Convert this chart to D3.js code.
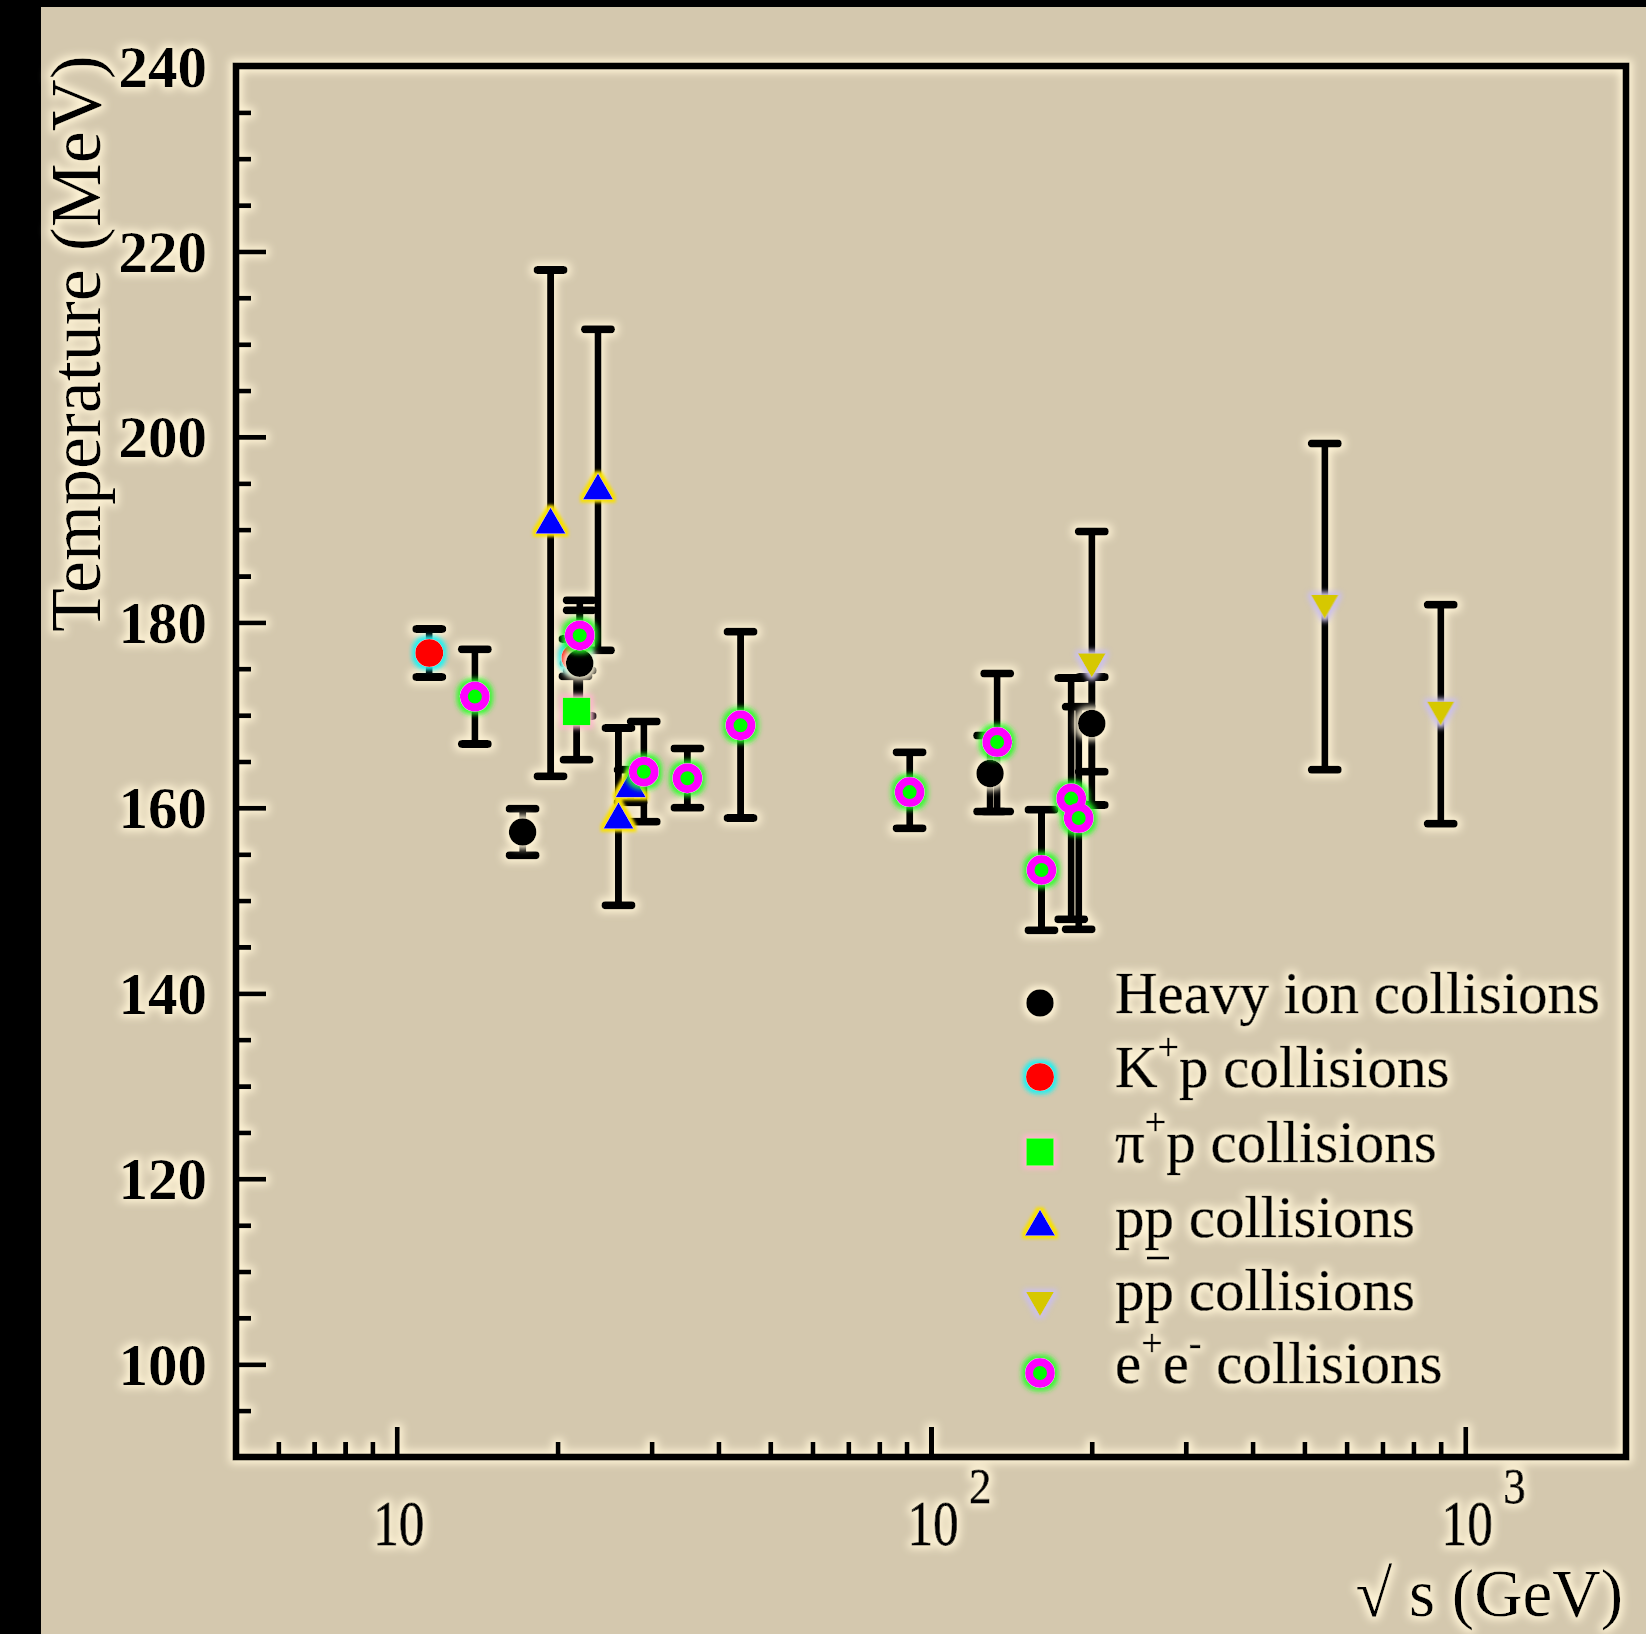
<!DOCTYPE html>
<html>
<head>
<meta charset="utf-8">
<script src="https://cdn.jsdelivr.net/npm/d3@7"></script>
<style>
body { margin: 0; background: #d4c8ae; }
svg { display: block; }
text { font-family: "Liberation Serif", "Times New Roman", serif; fill: #000; }
</style>
</head>
<body>
<div id="chart"></div>
<script>

// values
var heavyS = [17.2, 22.0, 129, 200];
var heavyT = [157.4, 175.6, 163.7, 169.1];
var heavyLo = [2.5, 5.7, 4.1, 5.2];
var heavyHi = [2.5, 5.7, 4.1, 5.0];

var kpS = [11.5, 21.6];
var kpT = [176.7, 176.2];
var kpLo = [2.6, 2.0];
var kpHi = [2.6, 2.0];

var pipS = [21.7];
var pipT = [170.4];
var pipLo = [5.2];
var pipHi = [5.2];

var ppS = [19.4, 23.8, 26.0, 27.4];
var ppT = [190.5, 194.2, 158.7, 162.1];
var ppLo = [27.1, 17.2, 9.2, 1.5];
var ppHi = [27.5, 17.4, 9.9, 2.0];

var pbarpS = [200, 546, 900];
var pbarpT = [175.8, 182.1, 170.6];
var pbarpLo = [15.5, 18.0, 12.3];
var pbarpHi = [14.0, 17.2, 11.3];

var eeS = [14, 22, 29, 35, 44, 91.2, 133, 161, 183, 189];
var eeT = [172.0, 178.6, 163.9, 163.2, 168.9, 161.7, 167.1, 153.3, 161.0, 158.9];
var eeLo = [5.1, 3.8, 5.4, 3.2, 10.0, 3.9, 7.5, 6.5, 13.0, 12.0];
var eeHi = [5.1, 3.8, 5.4, 3.2, 10.1, 4.3, 7.4, 6.5, 13.0, 12.0];

var yMajor = [100, 120, 140, 160, 180, 200, 220, 240];
var xMajor = [10, 100, 1000];
var xLabels = ["10", "10", "10"];
var xExponents = ["", "2", "3"];

var svgWidth = 1646;
var svgHeight = 1634;
var plot = { left: 236, right: 1626, top: 66, bottom: 1457 };

var svg = d3.select("#chart")
  .append("svg")
  .attr("width", svgWidth)
  .attr("height", svgHeight);

svg.append("rect")
  .attr("width", svgWidth)
  .attr("height", svgHeight)
  .attr("fill", "#d4c8ae");

// black strips on the left and top edge
svg.append("rect").attr("x", 0).attr("y", 0).attr("width", 41).attr("height", svgHeight).attr("fill", "#000");
svg.append("rect").attr("x", 0).attr("y", 0).attr("width", svgWidth).attr("height", 7).attr("fill", "#000");

var defs = svg.append("defs");

function addGlow(id, color, dilate, blur, opacity) {
  var f = defs.append("filter")
    .attr("id", id)
    .attr("filterUnits", "userSpaceOnUse")
    .attr("x", 0).attr("y", 0)
    .attr("width", svgWidth).attr("height", svgHeight);
  f.append("feMorphology").attr("in", "SourceAlpha").attr("operator", "dilate").attr("radius", dilate).attr("result", "fat");
  f.append("feGaussianBlur").attr("in", "fat").attr("stdDeviation", blur).attr("result", "soft");
  f.append("feFlood").attr("flood-color", color).attr("flood-opacity", opacity).attr("result", "col");
  f.append("feComposite").attr("in", "col").attr("in2", "soft").attr("operator", "in").attr("result", "halo");
  var m = f.append("feMerge");
  m.append("feMergeNode").attr("in", "halo");
  m.append("feMergeNode").attr("in", "SourceGraphic");
}

addGlow("glowInk", "#fff4d6", 3, 4, 1);
addGlow("glowHeavy", "#fff4d6", 3, 3, 1);
addGlow("glowKp", "#20f0f0", 3, 2, 1);
addGlow("glowPip", "#ffb4cc", 3, 2.5, 1);
addGlow("glowPp", "#f8e000", 3, 1.5, 1);
addGlow("glowPbarp", "#cabfe8", 3, 2.5, 1);
addGlow("glowEe", "#20ff20", 3, 2.5, 0.9);

var x = d3.scaleLog()
  .domain([5, 2000])
  .range([plot.left, plot.right]);

var y = d3.scaleLinear()
  .domain([90, 240])
  .range([plot.bottom, plot.top]);

var series = [
  { name: "Heavy ion collisions", s: heavyS, t: heavyT, lo: heavyLo, hi: heavyHi, symbol: d3.symbolCircle, size: 600, fill: "#000", glow: "glowHeavy", rot: 0 },
  { name: "K+p", s: kpS, t: kpT, lo: kpLo, hi: kpHi, symbol: d3.symbolCircle, size: 620, fill: "#ff0000", glow: "glowKp", rot: 0 },
  { name: "pi+p", s: pipS, t: pipT, lo: pipLo, hi: pipHi, symbol: d3.symbolSquare, size: 760, fill: "#00ff00", glow: "glowPip", rot: 0 },
  { name: "pp", s: ppS, t: ppT, lo: ppLo, hi: ppHi, symbol: d3.symbolTriangle, size: 400, fill: "#0000ff", glow: "glowPp", rot: 0 },
  { name: "pbarp", s: pbarpS, t: pbarpT, lo: pbarpLo, hi: pbarpHi, symbol: d3.symbolTriangle, size: 340, fill: "#d6c800", glow: "glowPbarp", rot: 180 },
  { name: "ee", s: eeS, t: eeT, lo: eeLo, hi: eeHi, symbol: null, size: 0, fill: "#00ff00", glow: "glowEe", rot: 0 }
];

var ink = svg.append("g").attr("filter", "url(#glowInk)");

// minor ticks
var yMinor = d3.range(95, 240, 5).filter(d => d % 20 !== 0);
ink.append("g")
  .attr("transform", `translate(${plot.left}, 0)`)
  .call(d3.axisLeft(y).tickValues(yMinor).tickSize(-15).tickSizeOuter(0).tickFormat(""))
  .call(g => g.select(".domain").remove())
  .call(g => g.selectAll("line").attr("stroke", "#000").attr("stroke-width", 5));

var xMinor = [6, 7, 8, 9, 20, 30, 40, 50, 60, 70, 80, 90, 200, 300, 400, 500, 600, 700, 800, 900];
ink.append("g")
  .attr("transform", `translate(0, ${plot.bottom})`)
  .call(d3.axisBottom(x).tickValues(xMinor).tickSize(-15).tickSizeOuter(0).tickFormat(""))
  .call(g => g.select(".domain").remove())
  .call(g => g.selectAll("line").attr("stroke", "#000").attr("stroke-width", 5));

// major ticks
var yAxis = ink.append("g")
  .attr("transform", `translate(${plot.left}, 0)`)
  .call(d3.axisLeft(y).tickValues(yMajor).tickSize(-30).tickSizeOuter(0).tickPadding(29).tickFormat(d3.format("d")));
yAxis.select(".domain").remove();
yAxis.selectAll("line").attr("stroke", "#000").attr("stroke-width", 5);
yAxis.selectAll("text")
  .attr("fill", "#000")
  .style("font-family", "'Liberation Serif', serif")
  .style("font-size", "59px")
  .style("font-weight", "bold")
  .attr("dy", "0.34em");

var xAxis = ink.append("g")
  .attr("transform", `translate(0, ${plot.bottom})`)
  .call(d3.axisBottom(x).tickValues(xMajor).tickSize(-30).tickSizeOuter(0).tickFormat(""));
xAxis.select(".domain").remove();
xAxis.selectAll("line").attr("stroke", "#000").attr("stroke-width", 5);

xMajor.forEach(function(d, i) {
  ink.append("g")
    .attr("transform", `translate(${x(d) + 2}, ${plot.bottom + 88}) scale(0.8, 1)`)
    .append("text")
    .attr("text-anchor", "middle")
    .attr("stroke", "#000")
    .attr("stroke-width", 1)
    .style("font-size", "64px")
    .text(xLabels[i]);
  if (xExponents[i]) {
    ink.append("g")
      .attr("transform", `translate(${x(d) + 38}, ${plot.bottom + 46}) scale(0.9, 1)`)
      .append("text")
      .attr("text-anchor", "start")
      .attr("stroke", "#000")
      .attr("stroke-width", 0.8)
      .style("font-size", "50px")
      .text(xExponents[i]);
  }
});

// frame
ink.append("rect")
  .attr("x", plot.left)
  .attr("y", plot.top)
  .attr("width", plot.right - plot.left)
  .attr("height", plot.bottom - plot.top)
  .attr("fill", "none")
  .attr("stroke", "#000")
  .attr("stroke-width", 7);

// axis titles
ink.append("text")
  .attr("transform", "translate(100, 632) rotate(-90)")
  .attr("text-anchor", "start")
  .style("font-size", "72px")
  .text("Temperature (MeV)");

ink.append("text")
  .attr("x", 1623)
  .attr("y", 1616)
  .attr("text-anchor", "end")
  .style("font-size", "67px")
  .text("\u221A s (GeV)");

// error bars
var capHalf = 13;
series.forEach(function(sr) {
  var pts = sr.s.map((v, i) => ({ s: v, t: sr.t[i], lo: sr.lo[i], hi: sr.hi[i] }));
  var eb = ink.append("g").selectAll("g")
    .data(pts)
    .enter()
    .append("g");
  eb.append("line")
    .attr("x1", d => x(d.s)).attr("x2", d => x(d.s))
    .attr("y1", d => y(d.t - d.lo)).attr("y2", d => y(d.t + d.hi))
    .attr("stroke", "#000").attr("stroke-width", 7);
  eb.append("line")
    .attr("x1", d => x(d.s) - capHalf).attr("x2", d => x(d.s) + capHalf)
    .attr("y1", d => y(d.t + d.hi)).attr("y2", d => y(d.t + d.hi))
    .attr("stroke", "#000").attr("stroke-width", 8).attr("stroke-linecap", "round");
  eb.append("line")
    .attr("x1", d => x(d.s) - capHalf).attr("x2", d => x(d.s) + capHalf)
    .attr("y1", d => y(d.t - d.lo)).attr("y2", d => y(d.t - d.lo))
    .attr("stroke", "#000").attr("stroke-width", 8).attr("stroke-linecap", "round");
});

// marker drawing
function drawMarker(g, sr, cx, cy) {
  if (sr.symbol) {
    g.append("path")
      .attr("d", d3.symbol().type(sr.symbol).size(sr.size)())
      .attr("transform", `translate(${cx}, ${cy}) rotate(${sr.rot})`)
      .attr("fill", sr.fill);
  } else {
    g.append("circle")
      .attr("cx", cx).attr("cy", cy).attr("r", 11)
      .attr("fill", sr.fill)
      .attr("stroke", "#ff00ff")
      .attr("stroke-width", 8);
  }
}

var drawOrder = [1, 2, 3, 4, 0, 5];
drawOrder.forEach(function(k) {
  var sr = series[k];
  var g = svg.append("g").attr("filter", `url(#${sr.glow})`);
  sr.s.forEach(function(v, i) {
    drawMarker(g, sr, x(v), y(sr.t[i]));
  });
});

// legend
var legendX = 1040;
var legendTextX = 1115;
var legendRows = [1003, 1077, 1152, 1227, 1300, 1373];

series.forEach(function(sr, i) {
  var g = svg.append("g").attr("filter", `url(#${sr.glow})`);
  drawMarker(g, sr, legendX, legendRows[i]);
});

var legendText = ink.append("g")
  .style("font-size", "59px")
  .attr("stroke", "#000")
  .attr("stroke-width", 0.6);

function supText(row, parts) {
  var t = legendText.append("text")
    .attr("x", legendTextX)
    .attr("y", legendRows[row] + 10);
  var shift = 0;
  parts.forEach(function(p) {
    var dy = (p[1] ? -27 : 0) - shift;
    t.append("tspan")
      .attr("dy", dy)
      .style("font-size", p[1] ? "38px" : "59px")
      .text(p[0]);
    shift = p[1] ? -27 : 0;
  });
}

supText(0, [["Heavy ion collisions", false]]);
supText(1, [["K", false], ["+", true], ["p collisions", false]]);
supText(2, [["\u03C0", false], ["+", true], ["p collisions", false]]);
supText(3, [["pp collisions", false]]);
supText(4, [["pp collisions", false]]);
supText(5, [["e", false], ["+", true], ["e", false], ["-", true], [" collisions", false]]);

// bar over the antiproton, sits a little high as in the original
legendText.append("line")
  .attr("x1", legendTextX + 32).attr("x2", legendTextX + 54)
  .attr("y1", legendRows[4] - 42).attr("y2", legendRows[4] - 42)
  .attr("stroke", "#000").attr("stroke-width", 3);

</script>
</body>
</html>
